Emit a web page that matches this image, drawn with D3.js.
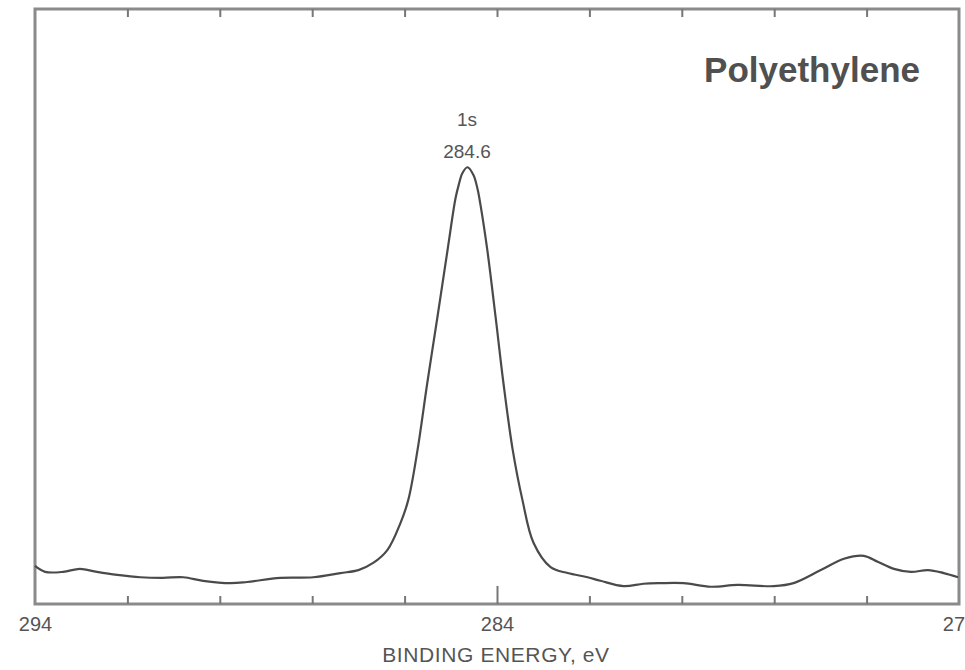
<!DOCTYPE html>
<html>
<head>
<meta charset="utf-8">
<script src="https://cdn.jsdelivr.net/npm/d3@7"></script>
<style>
  html, body { margin: 0; padding: 0; background: #fff; }
  svg { display: block; }
  text { font-family: "Liberation Sans", Arial, sans-serif; }
</style>
</head>
<body>
<svg id="chart" width="965" height="670"></svg>
<script>
// Binding energy (eV) and intensity (arbitrary units, 0..100 = frame height)
const energy = [294.00, 293.78, 293.39, 293.03, 292.66, 292.22, 291.72, 291.23, 290.79, 290.36,
  289.77, 289.41, 288.69, 287.98, 287.39, 287.00, 286.68, 286.37, 286.09, 285.92,
  285.72, 285.51, 285.29, 285.07, 284.90, 284.83, 284.75, 284.64, 284.51, 284.42, 284.36,
  284.21, 284.03, 283.86, 283.66, 283.45, 283.21, 282.84, 282.47, 282.04, 281.76,
  281.26, 280.83, 280.46, 279.96, 279.37, 278.79, 278.01, 277.58, 276.99, 276.49,
  276.06, 275.76, 275.41, 275.04, 274.67, 274.33, 274.02];
const intensity = [6.4, 5.4, 5.4, 5.9, 5.4, 4.9, 4.5, 4.4, 4.5, 3.9,
  3.5, 3.7, 4.4, 4.5, 5.2, 5.7, 6.9, 9.1, 13.6, 17.5,
  25.9, 37.1, 48.2, 59.5, 68.1, 70.4, 72.4, 73.4, 72.1, 69.7, 67.2,
  59.5, 48.2, 37.1, 25.9, 17.5, 10.3, 6.2, 5.2, 4.5, 3.9,
  3.0, 3.4, 3.5, 3.5, 2.9, 3.2, 3.0, 3.5, 5.7, 7.6,
  8.1, 7.1, 5.9, 5.4, 5.7, 5.2, 4.5];

const tickLabels = [294, 284, 274];
const minorTicks = [292, 290, 288, 286, 282, 280, 278, 276];
const majorTicks = [284];
const topTicks = [292, 290, 288, 286, 284, 282, 280, 278, 276];

const xTitle = "BINDING ENERGY, eV";
const sampleName = "Polyethylene";
const peakLabel = ["1s", "284.6"];

const svg = d3.select("#chart");
const L = 35, R = 959, T = 9, B = 604;

const x = d3.scaleLinear().domain([294, 274]).range([L, R]);
const y = d3.scaleLinear().domain([0, 100]).range([B, T]);

// frame
svg.append("rect")
  .attr("x", L).attr("y", T).attr("width", R - L).attr("height", B - T)
  .attr("fill", "none").attr("stroke", "#8a8a8a").attr("stroke-width", 3);

// bottom inward ticks
const gMinor = svg.append("g").attr("transform", `translate(0,${B})`)
  .call(d3.axisBottom(x).tickValues(minorTicks).tickSize(-8).tickFormat(""));
const gMajor = svg.append("g").attr("transform", `translate(0,${B})`)
  .call(d3.axisBottom(x).tickValues(majorTicks).tickSize(-18).tickFormat(""));
// top inward ticks
const gTop = svg.append("g").attr("transform", `translate(0,${T})`)
  .call(d3.axisTop(x).tickValues(topTicks).tickSize(-8).tickFormat(""));
[gMinor, gMajor, gTop].forEach(g => {
  g.select(".domain").remove();
  g.selectAll(".tick line").attr("stroke", "#777").attr("stroke-width", 2);
});

// tick labels
const gLab = svg.append("g").attr("transform", `translate(0,${B})`)
  .call(d3.axisBottom(x).tickValues(tickLabels).tickSize(0).tickPadding(0).tickFormat(d3.format("d")));
gLab.select(".domain").remove();
gLab.selectAll(".tick text")
  .attr("y", 27).attr("dy", 0)
  .attr("font-size", 20).attr("fill", "#555")
  .attr("font-family", "'Liberation Sans', Arial, sans-serif");

// axis title
svg.append("text")
  .attr("x", 496).attr("y", 662)
  .attr("text-anchor", "middle")
  .attr("font-size", 21).attr("letter-spacing", 0.6)
  .attr("fill", "#555")
  .text(xTitle);

// curve
const data = energy.map((e, i) => ({ e, v: intensity[i] }));
const line = d3.line().x(d => x(d.e)).y(d => y(d.v)).curve(d3.curveCatmullRom.alpha(0.5));
svg.append("path").datum(data)
  .attr("d", line)
  .attr("fill", "none").attr("stroke", "#4a4a4a").attr("stroke-width", 2.2)
  .attr("stroke-linejoin", "round");

// annotations
svg.append("text")
  .attr("x", 920).attr("y", 82).attr("text-anchor", "end")
  .attr("font-size", 35).attr("font-weight", "bold").attr("fill", "#505050")
  .text(sampleName);

svg.append("text")
  .attr("x", 467).attr("y", 126).attr("text-anchor", "middle")
  .attr("font-size", 19).attr("fill", "#555")
  .text(peakLabel[0]);
svg.append("text")
  .attr("x", 467).attr("y", 158).attr("text-anchor", "middle")
  .attr("font-size", 19).attr("fill", "#555")
  .text(peakLabel[1]);
</script>
</body>
</html>
